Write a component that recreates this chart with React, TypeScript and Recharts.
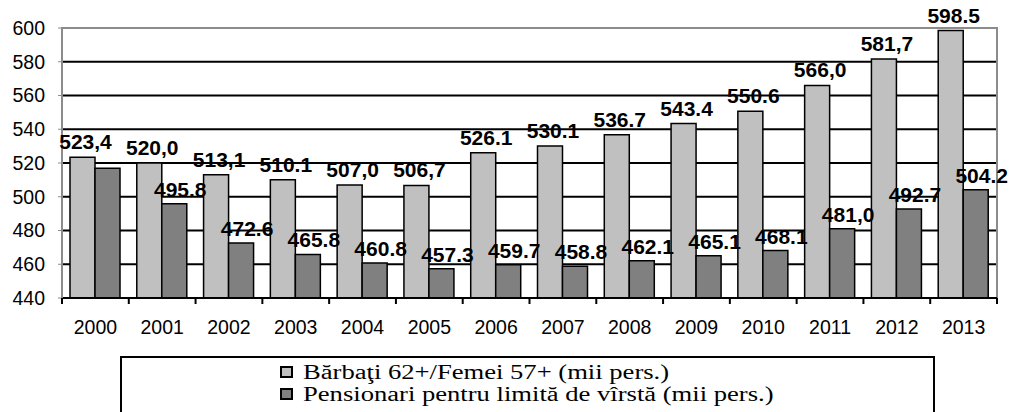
import { Bar, BarChart, CartesianGrid, LabelList, Legend, ReferenceArea, XAxis, YAxis } from "recharts";

const years = ["2000", "2001", "2002", "2003", "2004", "2005", "2006", "2007", "2008", "2009", "2010", "2011", "2012", "2013"];
const barbatiFemei = [523.4, 520.0, 513.1, 510.1, 507.0, 506.7, 526.1, 530.1, 536.7, 543.4, 550.6, 566.0, 581.7, 598.5];
const pensionari = [516.9, 495.8, 472.6, 465.8, 460.8, 457.3, 459.7, 458.8, 462.1, 465.1, 468.1, 481.0, 492.7, 504.2];
const barbatiLabels = ["523,4", "520,0", "513,1", "510.1", "507,0", "506,7", "526.1", "530.1", "536.7", "543.4", "550.6", "566,0", "581,7", "598.5"];
const pensionariLabels = ["", "495.8", "472.6", "465.8", "460.8", "457.3", "459.7", "458.8", "462.1", "465.1", "468.1", "481,0", "492.7", "504.2"];
const yTicks = [440, 460, 480, 500, 520, 540, 560, 580, 600];

const seriesNames = ["Bărbaţi 62+/Femei 57+ (mii pers.)", "Pensionari pentru limită de vîrstă (mii pers.)"];

const data = years.map((year, i) => ({
  year,
  barbati: barbatiFemei[i],
  pensionari: pensionari[i],
  barbatiLabel: barbatiLabels[i],
  pensionariLabel: pensionariLabels[i],
}));

const W = 1018;
const H = 412;
const margin = { top: 28, right: 21, left: 0, bottom: 74 };
const Y_AXIS_W = 62;
const BAND = (W - Y_AXIS_W - margin.right) / years.length;

const sans = "'Liberation Sans', Arial, sans-serif";
const serif = "'Liberation Serif', 'Times New Roman', serif";

// year label plus the little ticks that sit on the category boundaries
function YearTick(props: any) {
  const { x, y, payload, index } = props;
  const half = BAND / 2;
  return (
    <g>
      <line x1={x - half} x2={x - half} y1={y} y2={y + 6} stroke="#000" strokeWidth={2} />
      {index === years.length - 1 && (
        <line x1={x + half} x2={x + half} y1={y} y2={y + 6} stroke="#000" strokeWidth={2} />
      )}
      <text x={x} y={y + 36} textAnchor="middle" fontSize={19.5} fontFamily={sans} fill="#000">
        {payload.value}
      </text>
    </g>
  );
}

function LegendBox(props: any) {
  const payload = props.payload ?? [];
  return (
    <div
      style={{
        boxSizing: "border-box",
        width: 815,
        height: 80,
        border: "2px solid #000",
        background: "#fff",
        paddingLeft: 158,
        paddingTop: 3,
        fontFamily: serif,
        fontSize: 20,
        lineHeight: "22px",
        color: "#000",
        textAlign: "left",
      }}
    >
      {payload.map((entry: any) => (
        <div key={entry.value} style={{ display: "flex", alignItems: "center", height: 22 }}>
          <span
            style={{
              display: "inline-block",
              boxSizing: "border-box",
              width: 13,
              height: 12,
              border: "2px solid #000",
              background: entry.color,
              marginRight: 10,
            }}
          />
          <span style={{ display: "inline-block", whiteSpace: "nowrap", transform: "scaleX(1.33)", transformOrigin: "left center" }}>
            {entry.value}
          </span>
        </div>
      ))}
    </div>
  );
}

export default function App() {
  return (
    <div style={{ position: "fixed", left: 0, top: 0, width: W, height: H, background: "#fff", overflow: "hidden" }}>
      <BarChart width={W} height={H} data={data} margin={margin} barGap={0} barSize={25}>
        <CartesianGrid vertical={false} stroke="#000" strokeWidth={2} />
        <ReferenceArea y1={440} y2={600} fill="none" stroke="#8c8c8c" strokeWidth={2} />
        <XAxis
          dataKey="year"
          interval={0}
          height={40}
          tickLine={false}
          tickSize={0}
          tickMargin={0}
          axisLine={{ stroke: "#000", strokeWidth: 2 }}
          tick={<YearTick />}
        />
        <YAxis
          width={Y_AXIS_W}
          domain={[440, 600]}
          ticks={yTicks}
          interval={0}
          axisLine={{ stroke: "#8c8c8c", strokeWidth: 2 }}
          tickLine={{ stroke: "#8c8c8c" }}
          tickSize={4}
          tickMargin={13}
          tick={{ fill: "#000", fontSize: 19.5, fontFamily: sans }}
        />
        <Legend
          layout="vertical"
          align="center"
          verticalAlign="middle"
          wrapperStyle={{ left: 120, top: 356, width: 815 }}
          content={<LegendBox />}
        />
        <Bar
          dataKey="barbati"
          name={seriesNames[0]}
          fill="#c0c0c0"
          stroke="#000"
          strokeWidth={1.5}
          isAnimationActive={false}
        >
          <LabelList
            dataKey="barbatiLabel"
            position="top"
            offset={8}
            dx={3}
            fill="#000"
            fontSize={21}
            fontWeight="bold"
            fontFamily={sans}
          />
        </Bar>
        <Bar
          dataKey="pensionari"
          name={seriesNames[1]}
          fill="#808080"
          stroke="#000"
          strokeWidth={1.5}
          isAnimationActive={false}
        >
          <LabelList
            dataKey="pensionariLabel"
            position="top"
            offset={7}
            dx={6}
            fill="#000"
            fontSize={21}
            fontWeight="bold"
            fontFamily={sans}
          />
        </Bar>
      </BarChart>
    </div>
  );
}
